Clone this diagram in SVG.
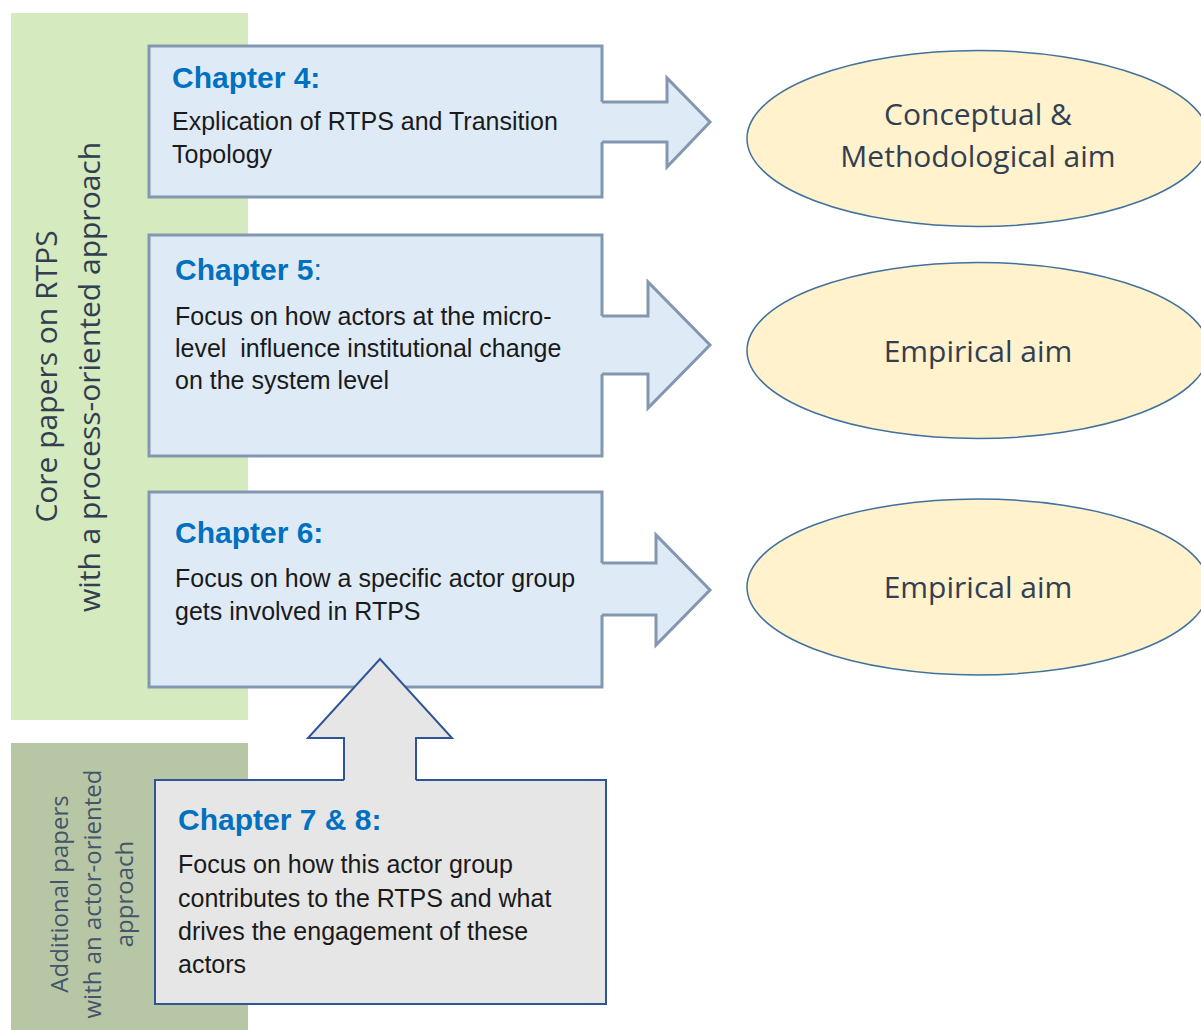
<svg xmlns="http://www.w3.org/2000/svg" width="1201" height="1030" viewBox="0 0 1201 1030">
  <style>
    .band-core { fill: #d5eabf; }
    .band-extra { fill: #b7c7a5; }
    .band-label { font-family: "Open Sans", "DejaVu Sans", sans-serif; fill: #333f50; text-anchor: middle; font-size: 30px; }
    .band-label.small { fill: #44546a; font-size: 24px; }
    .chapter-box { fill: #deebf7; stroke: #8497b0; stroke-width: 3; }
    .chapter-box-gray { fill: #e6e6e6; stroke: #2f5597; stroke-width: 2; }
    .head { font-family: "Liberation Sans", Arial, sans-serif; font-weight: bold; font-size: 30px; fill: #0070c0; }
    .head .plain { font-weight: normal; }
    .body { font-family: "Liberation Sans", Arial, sans-serif; font-size: 25px; fill: #1a1a1a; }
    .aim { fill: #fff2cc; stroke: #41719c; stroke-width: 1.5; }
    .aim-text { font-family: "Open Sans", "DejaVu Sans", sans-serif; font-size: 30px; fill: #333f50; text-anchor: middle; }
    .arrow-fill-blue { fill: #deebf7; stroke: none; }
    .arrow-line-blue { fill: none; stroke: #8497b0; stroke-width: 3; stroke-linejoin: miter; }
    .arrow-fill-gray { fill: #e6e6e6; stroke: none; }
    .arrow-line-gray { fill: none; stroke: #2f5597; stroke-width: 2; stroke-linejoin: miter; }
  </style>

  <!-- background bands with rotated captions -->
  <g id="band-core">
    <rect class="band-core" x="11" y="13" width="237" height="707"/>
    <text class="band-label" transform="translate(57,376.5) rotate(-90)">Core papers on RTPS</text>
    <text class="band-label" transform="translate(100,377) rotate(-90)">with a process-oriented approach</text>
  </g>
  <g id="band-extra">
    <rect class="band-extra" x="11" y="743" width="237" height="287"/>
    <text class="band-label small" transform="translate(68,894) rotate(-90)">Additional papers</text>
    <text class="band-label small" transform="translate(101,894) rotate(-90)">with an actor-oriented</text>
    <text class="band-label small" transform="translate(133,894) rotate(-90)">approach</text>
  </g>

  <!-- chapter boxes -->
  <g id="chapter-4">
    <rect class="chapter-box" x="149" y="46" width="453" height="151"/>
    <text class="head" x="172" y="88">Chapter 4:</text>
    <text class="body" x="172" y="130">Explication of RTPS and Transition</text>
    <text class="body" x="172" y="163">Topology</text>
  </g>
  <g id="chapter-5">
    <rect class="chapter-box" x="149" y="235" width="453" height="221"/>
    <text class="head" x="175" y="280">Chapter 5<tspan class="plain">:</tspan></text>
    <text class="body" x="175" y="325">Focus on how actors at the micro-</text>
    <text class="body" x="175" y="357" xml:space="preserve">level  influence institutional change</text>
    <text class="body" x="175" y="389">on the system level</text>
  </g>
  <g id="chapter-6">
    <rect class="chapter-box" x="149" y="492" width="453" height="195"/>
    <text class="head" x="175" y="543">Chapter 6:</text>
    <text class="body" x="175" y="587">Focus on how a specific actor group</text>
    <text class="body" x="175" y="620">gets involved in RTPS</text>
  </g>
  <g id="chapter-7-8">
    <rect class="chapter-box-gray" x="155" y="780" width="451" height="224"/>
    <text class="head" x="178" y="830">Chapter 7 &amp; 8:</text>
    <text class="body" x="178" y="873">Focus on how this actor group</text>
    <text class="body" x="178" y="907">contributes to the RTPS and what</text>
    <text class="body" x="178" y="940">drives the engagement of these</text>
    <text class="body" x="178" y="973">actors</text>
  </g>

  <!-- aims -->
  <g id="aim-conceptual">
    <ellipse class="aim" cx="978" cy="138.5" rx="231" ry="88"/>
    <text class="aim-text" x="978" y="125">Conceptual &amp;</text>
    <text class="aim-text" x="978" y="167">Methodological aim</text>
  </g>
  <g id="aim-empirical-1">
    <ellipse class="aim" cx="978" cy="350.5" rx="231" ry="88"/>
    <text class="aim-text" x="978" y="362">Empirical aim</text>
  </g>
  <g id="aim-empirical-2">
    <ellipse class="aim" cx="978" cy="587" rx="231" ry="88"/>
    <text class="aim-text" x="978" y="598">Empirical aim</text>
  </g>

  <!-- block arrows: fill covers the box border where the shaft joins -->
  <g id="connectors">
    <g id="arrow-ch4-conceptual">
      <path class="arrow-fill-blue" d="M599,102 H667 V78 L710,122 L667,167 V142 H599 Z"/>
      <path class="arrow-line-blue" d="M602,102 H667 V78 L710,122 L667,167 V142 H602"/>
    </g>
    <g id="arrow-ch5-empirical">
      <path class="arrow-fill-blue" d="M599,316 H648 V282 L710,345 L648,408 V374 H599 Z"/>
      <path class="arrow-line-blue" d="M602,316 H648 V282 L710,345 L648,408 V374 H602"/>
    </g>
    <g id="arrow-ch6-empirical">
      <path class="arrow-fill-blue" d="M599,563 H656 V535 L710,590 L656,645 V615 H599 Z"/>
      <path class="arrow-line-blue" d="M602,563 H656 V535 L710,590 L656,645 V615 H602"/>
    </g>
    <g id="arrow-ch78-ch6">
      <path class="arrow-fill-gray" d="M344,782 V738 H308 L380,659 L452,738 H416 V782 Z"/>
      <path class="arrow-line-gray" d="M344,780 V738 H308 L380,659 L452,738 H416 V780"/>
    </g>
  </g>
</svg>
